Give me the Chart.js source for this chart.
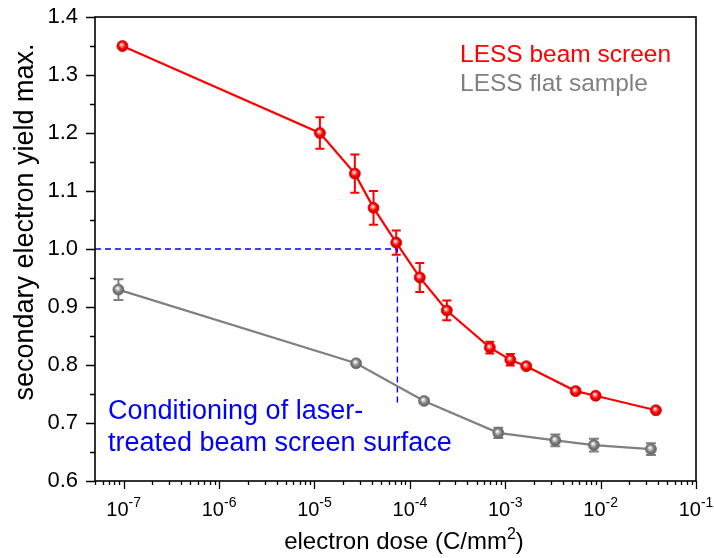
<!DOCTYPE html>
<html><head><meta charset="utf-8">
<script src="https://cdn.jsdelivr.net/npm/chart.js@4.4.1/dist/chart.umd.min.js"></script>
<style>html,body{margin:0;padding:0;background:#fff;}#wrap{width:714px;height:558px;}</style>
</head><body><div id="wrap"><canvas id="c" width="714" height="558"></canvas></div>
<script>
// ---- data ----
const beamLabel = 'LESS beam screen';
const beamDose = [9.7e-8, 1.14e-5, 2.65e-5, 4.16e-5, 7.2e-5, 1.27e-4, 2.44e-4, 6.9e-4, 1.13e-3, 1.66e-3, 5.47e-3, 8.87e-3, 3.8e-2];
const beamSEY  = [1.350, 1.200, 1.130, 1.071, 1.011, 0.951, 0.894, 0.830, 0.809, 0.798, 0.755, 0.747, 0.722];
const beamErr  = [0.004, 0.027, 0.033, 0.029, 0.021, 0.025, 0.017, 0.010, 0.010, 0.003, 0.005, 0.003, 0.002];

const flatLabel = 'LESS flat sample';
const flatDose = [8.8e-8, 2.73e-5, 1.41e-4, 8.45e-4, 3.35e-3, 8.5e-3, 3.37e-2];
const flatSEY  = [0.930, 0.803, 0.738, 0.683, 0.670, 0.662, 0.655];
const flatErr  = [0.018, 0.003, 0.003, 0.009, 0.010, 0.011, 0.010];

const guideDose = [5e-8, 7.4e-5, 7.4e-5];
const guideSEY  = [1.0, 1.0, 0.73];

const xMin = 5e-8, xMax = 1e-1;
const yMin = 0.6, yMax = 1.4;
const xTickExponents = [-7, -6, -5, -4, -3, -2, -1];
const yTickLabels = ['0.6', '0.7', '0.8', '0.9', '1.0', '1.1', '1.2', '1.3', '1.4'];
const xTitle = 'electron dose (C/mm';
const xTitleSup = '2';
const yTitle = 'secondary electron yield max.';
const noteLines = ['Conditioning of laser-', 'treated beam screen surface'];

// ---- styling ----
const FF = "'Liberation Sans', Arial, Helvetica, sans-serif";
const RED = '#ff0000', GRAY = '#808080', BLUE = '#0000ff';

function pts(xs, ys) { return xs.map((v, i) => ({ x: v, y: ys[i] })); }

function sphere(base, light, dark) {
  return (c) => {
    const chart = c.chart;
    if (c.type !== 'data' || !c.parsed || !chart.scales.x) return base;
    const px = chart.scales.x.getPixelForValue(c.parsed.x);
    const py = chart.scales.y.getPixelForValue(c.parsed.y);
    if (!isFinite(px) || !isFinite(py)) return base;
    const g = chart.ctx.createRadialGradient(px - 1, py - 1.5, 0.2, px, py, 6);
    g.addColorStop(0, '#ffffff');
    g.addColorStop(0.25, light);
    g.addColorStop(0.55, base);
    g.addColorStop(1, dark);
    return g;
  };
}

function drawErr(chart, doses, vals, errs, color, cap) {
  const { ctx, scales: { x, y } } = chart;
  ctx.save();
  ctx.strokeStyle = color;
  ctx.lineWidth = 2;
  ctx.beginPath();
  doses.forEach((d, i) => {
    const px = x.getPixelForValue(d);
    const t = y.getPixelForValue(vals[i] + errs[i]);
    const b = y.getPixelForValue(vals[i] - errs[i]);
    ctx.moveTo(px, t); ctx.lineTo(px, b);
    ctx.moveTo(px - cap, t); ctx.lineTo(px + cap, t);
    ctx.moveTo(px - cap, b); ctx.lineTo(px + cap, b);
  });
  ctx.stroke();
  ctx.restore();
}

const overlay = {
  id: 'overlay',
  beforeDatasetsDraw(chart) {
    drawErr(chart, beamDose, beamSEY, beamErr, RED, 4.5);
    drawErr(chart, flatDose, flatSEY, flatErr, GRAY, 5);
  },
  afterDraw(chart) {
    const { ctx, chartArea: a, scales: { x, y } } = chart;
    ctx.save();
    // frame
    ctx.strokeStyle = '#000';
    ctx.lineWidth = 1.6;
    ctx.strokeRect(a.left, a.top, a.right - a.left, a.bottom - a.top);
    // x ticks (major + minor, outward)
    ctx.lineWidth = 1.3;
    ctx.beginPath();
    for (let n = -8; n <= -1; n++) {
      for (let k = 1; k <= 9; k++) {
        const v = k * Math.pow(10, n);
        if (v < xMin * 0.999 || v > xMax * 1.001) continue;
        const px = Math.round(x.getPixelForValue(v)) + 0.5;
        ctx.moveTo(px, a.bottom);
        ctx.lineTo(px, a.bottom + (k === 1 ? 8 : 4));
      }
    }
    // y ticks
    for (let i = 0; i <= 16; i++) {
      const v = yMin + i * 0.05;
      const py = Math.round(y.getPixelForValue(v)) + 0.5;
      ctx.moveTo(a.left, py);
      ctx.lineTo(a.left - (i % 2 === 0 ? 9 : 5), py);
    }
    ctx.stroke();
    // x tick labels 10^n
    ctx.fillStyle = '#000';
    ctx.textBaseline = 'alphabetic';
    ctx.textAlign = 'left';
    xTickExponents.forEach(e => {
      const px = x.getPixelForValue(Math.pow(10, e));
      ctx.font = '20px ' + FF;
      const wb = ctx.measureText('10').width;
      ctx.font = '14px ' + FF;
      const es = String(e);
      const we = ctx.measureText(es).width;
      const x0 = px - (wb + we) / 2;
      ctx.font = '20px ' + FF;
      ctx.fillText('10', x0, 516);
      ctx.font = '14px ' + FF;
      ctx.fillText(es, x0 + wb, 507);
    });
    // x title with superscript
    ctx.font = '24px ' + FF;
    const w1 = ctx.measureText(xTitle).width;
    const w3 = ctx.measureText(')').width;
    ctx.font = '16px ' + FF;
    const w2 = ctx.measureText(xTitleSup).width;
    let tx = 404 - (w1 + w2 + w3) / 2;
    ctx.font = '24px ' + FF;
    ctx.fillText(xTitle, tx, 549);
    ctx.font = '16px ' + FF;
    ctx.fillText(xTitleSup, tx + w1, 539);
    ctx.font = '24px ' + FF;
    ctx.fillText(')', tx + w1 + w2, 549);
    // y title (rotated)
    ctx.save();
    ctx.translate(33, 222);
    ctx.rotate(-Math.PI / 2);
    ctx.textAlign = 'center';
    ctx.font = '27px ' + FF;
    ctx.fillText(yTitle, 0, 0);
    ctx.restore();
    // legend (text only)
    ctx.textAlign = 'left';
    ctx.font = '24.5px ' + FF;
    ctx.fillStyle = RED;
    ctx.fillText(chart.data.datasets[0].label, 460, 62);
    ctx.fillStyle = GRAY;
    ctx.fillText(chart.data.datasets[1].label, 460, 91);
    // annotation
    ctx.fillStyle = BLUE;
    ctx.font = '27px ' + FF;
    ctx.fillText(noteLines[0], 108, 419);
    ctx.fillText(noteLines[1], 108, 451);
    ctx.restore();
  }
};

new Chart(document.getElementById('c'), {
  type: 'line',
  data: {
    datasets: [
      {
        label: beamLabel,
        data: pts(beamDose, beamSEY),
        borderColor: RED, borderWidth: 2.2,
        pointRadius: 5.5, pointBorderWidth: 0.8, pointBorderColor: '#e00000',
        pointBackgroundColor: sphere(RED, '#ff8080', '#c00000'),
        order: 1
      },
      {
        label: flatLabel,
        data: pts(flatDose, flatSEY),
        borderColor: GRAY, borderWidth: 2.2,
        pointRadius: 5.5, pointBorderWidth: 0.8, pointBorderColor: '#707070',
        pointBackgroundColor: sphere(GRAY, '#c8c8c8', '#5a5a5a'),
        order: 2
      },
      {
        label: 'guide',
        data: pts(guideDose, guideSEY),
        borderColor: BLUE, borderWidth: 1.4, borderDash: [6, 4],
        pointRadius: 0, order: 3
      }
    ]
  },
  options: {
    responsive: false,
    devicePixelRatio: 1,
    animation: false,
    layout: { padding: { top: 17, right: 18, left: 0, bottom: 0 } },
    plugins: { legend: { display: false }, tooltip: { enabled: false } },
    scales: {
      x: {
        type: 'logarithmic', min: xMin, max: xMax,
        grid: { display: false, drawTicks: false },
        border: { display: false },
        ticks: { display: false },
        afterFit: (s) => { s.height = 77; s.paddingLeft = 0; s.paddingRight = 0; }
      },
      y: {
        type: 'linear', min: yMin, max: yMax,
        grid: { display: false, drawTicks: false },
        border: { display: false },
        afterBuildTicks: (s) => { s.ticks = yTickLabels.map(t => ({ value: parseFloat(t) })); },
        ticks: {
          padding: 17, color: '#000',
          font: { family: FF, size: 22 },
          callback: (v) => Number(v).toFixed(1)
        },
        afterFit: (s) => { s.width = 95; s.paddingTop = 0; s.paddingBottom = 0; }
      }
    }
  },
  plugins: [overlay]
});
</script>
</body></html>
